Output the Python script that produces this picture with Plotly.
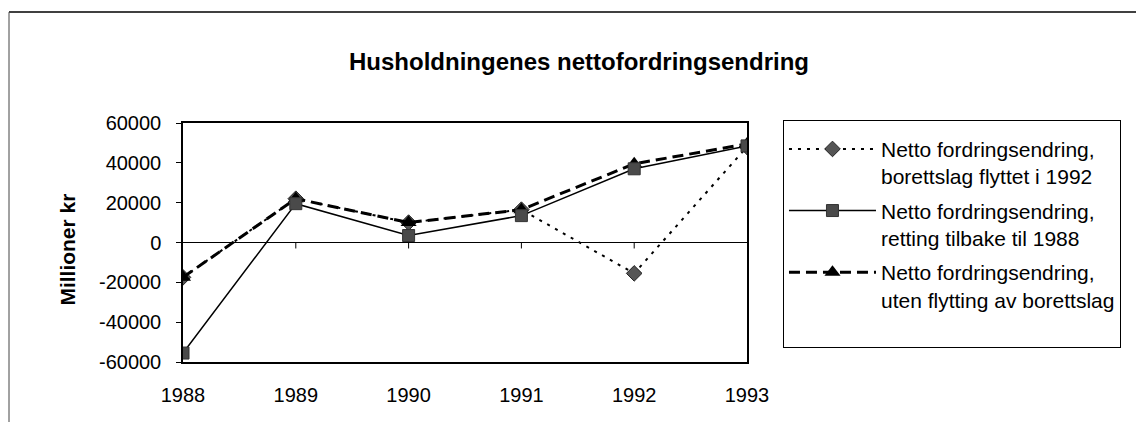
import plotly.graph_objects as go

years = [1988, 1989, 1990, 1991, 1992, 1993]
flyttet_1992 = [-17500, 22000, 10000, 16500, -15500, 48000]
retting_1988 = [-55500, 19500, 3500, 13500, 37000, 48500]
uten_flytting = [-17500, 22000, 10000, 16500, 39500, 49500]

name1 = "Netto fordringsendring,<br>borettslag flyttet i 1992"
name2 = "Netto fordringsendring,<br>retting tilbake til 1988"
name3 = "Netto fordringsendring,<br>uten flytting av borettslag<br> "
title_text = "Husholdningenes nettofordringsendring"
ytitle = "Millioner kr"
ytick_vals = [-60000, -40000, -20000, 0, 20000, 40000, 60000]
ytick_text = ["-60000", "-40000", "-20000", "0", "20000", "40000", "60000"]

FONT = "Liberation Sans, Arial, sans-serif"

# page body has an 8px default margin; figure is sized to compensate
W, H = 1136, 414

fig = go.Figure()
fig.add_trace(go.Scatter(
    x=years, y=flyttet_1992, name=name1, mode="lines+markers",
    legendgroup="a", legendrank=1,
    line=dict(color="black", width=2, dash="3px,6px"),
    marker=dict(symbol="diamond", size=12, color="#555555", line=dict(color="#222222", width=1)),
))
fig.add_trace(go.Scatter(
    x=years, y=uten_flytting, name=name3, mode="lines+markers",
    legendgroup="c", legendrank=3,
    line=dict(color="black", width=3, dash="11px,6px"),
    marker=dict(symbol="triangle-up", size=14, color="black"),
))
fig.add_trace(go.Scatter(
    x=years, y=retting_1988, name=name2, mode="lines+markers",
    legendgroup="b", legendrank=2,
    line=dict(color="black", width=1.5),
    marker=dict(symbol="square", size=12, color="#4a4a4a", line=dict(color="#333333", width=1)),
))

# small tick marks on the zero line
for yr in years[1:-1]:
    fig.add_shape(type="line", xref="x", yref="y", x0=yr, x1=yr, y0=0, y1=-3000,
                  line=dict(color="black", width=1))

# outer chart frame (top and left edges visible)
fig.add_shape(type="line", xref="paper", yref="paper", x0=-0.3085, x1=1.72, y0=1.464, y1=1.464,
              line=dict(color="black", width=1.5))
fig.add_shape(type="line", xref="paper", yref="paper", x0=-0.3085, x1=-0.3085, y0=1.464, y1=-0.3,
              line=dict(color="#444444", width=1))

fig.add_annotation(text=ytitle, xref="paper", yref="paper", x=-0.204, y=0.47,
                   xanchor="center", yanchor="middle",
                   textangle=-90, showarrow=False,
                   font=dict(family=FONT, size=21, color="black", weight="bold"))

fig.update_layout(
    width=W, height=H,
    margin=dict(l=175, r=397, t=115, b=60),
    paper_bgcolor="white", plot_bgcolor="white",
    font=dict(family=FONT, size=20, color="black"),
    title=dict(text=title_text, x=(571 / W), xanchor="center", y=1 - 54 / H, yanchor="middle",
               font=dict(family=FONT, size=24, color="black", weight="bold")),
    showlegend=True,
    legend=dict(x=1.0638, y=1.0126, xanchor="left", yanchor="top",
                bordercolor="black", borderwidth=1, bgcolor="white",
                font=dict(family=FONT, size=21, color="black"),
                title=dict(text=" ", font=dict(size=6)),
                maxheight=400,
                traceorder="grouped", tracegroupgap=4, valign="top", itemwidth=87),
)
fig.update_xaxes(range=[1988, 1993], tickvals=years, showgrid=False, zeroline=False,
                 showline=True, linecolor="black", linewidth=1.5, mirror=True,
                 ticks="", ticklabelstandoff=14, tickfont=dict(size=20))
fig.update_yaxes(range=[-60000, 60000], tickvals=ytick_vals, ticktext=ytick_text, showgrid=False,
                 zeroline=True, zerolinecolor="black", zerolinewidth=1,
                 showline=True, linecolor="black", linewidth=1.5, mirror=True,
                 ticks="outside", ticklen=5, tickcolor="black", ticklabelstandoff=11,
                 tickfont=dict(size=20))

fig.write_html("out.html")
